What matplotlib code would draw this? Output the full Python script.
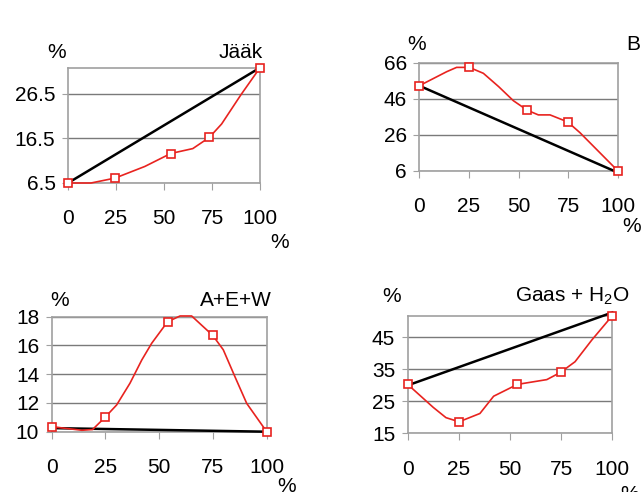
import matplotlib
matplotlib.use("Agg")
import matplotlib.pyplot as plt

plt.rcParams['font.family'] = ['Liberation Sans', 'DejaVu Sans']
plt.rcParams['font.size'] = 15

W, H = 643, 492

# x ticks shared by all panels
xticks = [0, 25, 50, 75, 100]

# Jääk
jaak_mx = [0, 24.5, 53.5, 73.6, 100]
jaak_my = [6.5, 7.6, 13.1, 16.7, 32.3]
jaak_cx = [0, 12, 24.5, 40, 53.5, 65, 73.6, 80, 90, 100]
jaak_cy = [6.5, 6.5, 7.6, 10.2, 13.1, 14.2, 16.7, 19.7, 26.2, 32.3]
jaak_line = [6.5, 32.3]
jaak_yticks = [6.5, 16.5, 26.5]

# B
b_mx = [0, 25.2, 54.4, 74.8, 100]
b_my = [53.2, 63.4, 39.6, 33.1, 6]
b_cx = [0, 13.8, 18.8, 25.2, 32.3, 40, 47.4, 54.4, 60, 65.9, 74.8, 81, 100]
b_cy = [53.2, 61, 63.4, 63.4, 60.1, 52.7, 44.9, 39.6, 37, 37, 33.1, 27.1, 6]
b_line = [53.2, 5]
b_yticks = [6, 26, 46, 66]

# A+E+W
aew_mx = [0, 24.8, 53.9, 74.9, 100]
aew_my = [10.35, 11.0, 17.65, 16.7, 10]
aew_cx = [0, 14, 19, 24.8, 30.2, 36.4, 41.9, 46.5, 53.9, 59.7, 65.1, 69.8,
          74.9, 79.8, 85.3, 90.7, 100]
aew_cy = [10.35, 10.1, 10.15, 11.0, 11.86, 13.37, 14.99, 16.15, 17.65, 18.05,
          18.05, 17.4, 16.7, 15.7, 13.8, 11.97, 10]
aew_line = [10.25, 10.0]
aew_yticks = [10, 12, 14, 16, 18]

# Gaas + H2O
gaas_mx = [0, 25.1, 53.6, 74.8, 100]
gaas_my = [30.3, 18.6, 30.3, 34.1, 51.8]
gaas_cx = [0, 12.5, 18.7, 25.1, 35.3, 42, 53.6, 68, 74.8, 81.8, 90, 100]
gaas_cy = [30.3, 23.1, 19.9, 18.6, 21.2, 26.6, 30.3, 31.8, 34.1, 37.4, 44.2, 51.8]
gaas_line = [30, 52.8]
gaas_yticks = [15, 25, 35, 45]


def px_rect(l, r, t, b):
    return [l / W, 1 - b / H, (r - l) / W, (b - t) / H]


def fig_text(fig, x, y, s, ha='center'):
    fig.text(x / W, 1 - y / H, s, ha=ha, va='center')


panels = [
    (px_rect(68, 260, 67.7, 183), jaak_cx, jaak_cy, jaak_mx, jaak_my, jaak_line,
     jaak_yticks, (6.5, 32.3), ['6.5', '16.5', '26.5']),
    (px_rect(419.3, 617.7, 62.7, 170.7), b_cx, b_cy, b_mx, b_my, b_line,
     b_yticks, (6, 66), None),
    (px_rect(51.7, 266.7, 316.7, 431.7), aew_cx, aew_cy, aew_mx, aew_my, aew_line,
     aew_yticks, (10, 18), None),
    (px_rect(407.7, 612.3, 316, 433.3), gaas_cx, gaas_cy, gaas_mx, gaas_my, gaas_line,
     gaas_yticks, (15, 51.7), None),
]

fig = plt.figure(figsize=(W / 100, H / 100), dpi=100)

for rect, cx, cy, mx, my, line, yt, ylim, ylabels in panels:
    ax = fig.add_axes(rect)
    ax.plot([0, 100], line, color='black', lw=1.8, clip_on=False, zorder=3)
    ax.plot(cx, cy, color='#e8231f', lw=1.2, clip_on=False, zorder=4)
    ax.plot(mx, my, ls='none', marker='s', ms=6, mfc='white', mec='#e8231f',
            mew=1.2, clip_on=False, zorder=5)
    ax.set_xlim(0, 100)
    ax.set_ylim(*ylim)
    ax.set_xticks(xticks)
    ax.set_yticks(yt)
    if ylabels:
        ax.set_yticklabels(ylabels)
    ax.grid(axis='y', color='#7a7a7a', lw=1)
    ax.set_axisbelow(True)
    for sp in ax.spines.values():
        sp.set_color('#a0a0a0')
        sp.set_linewidth(1.2)
    ax.tick_params(axis='x', length=5, color='#a0a0a0', pad=14)
    ax.tick_params(axis='y', length=4, color='#a0a0a0', pad=5)

# panel titles and unit labels
fig_text(fig, 57, 53, '%')
fig_text(fig, 263, 52.7, 'Jääk', ha='right')
fig_text(fig, 280, 243, '%')

fig_text(fig, 416.7, 45, '%')
fig_text(fig, 626.7, 45, 'B', ha='left')
fig_text(fig, 631.7, 226.7, '%')

fig_text(fig, 60, 300, '%')
fig_text(fig, 271.7, 300, 'A+E+W', ha='right')
fig_text(fig, 287, 486, '%')

fig_text(fig, 391.7, 296, '%')
fig_text(fig, 630, 296, r'Gaas + H$\mathregular{_2}$O', ha='right')
fig_text(fig, 630, 494, '%')

fig.savefig('out.png', dpi=100)
